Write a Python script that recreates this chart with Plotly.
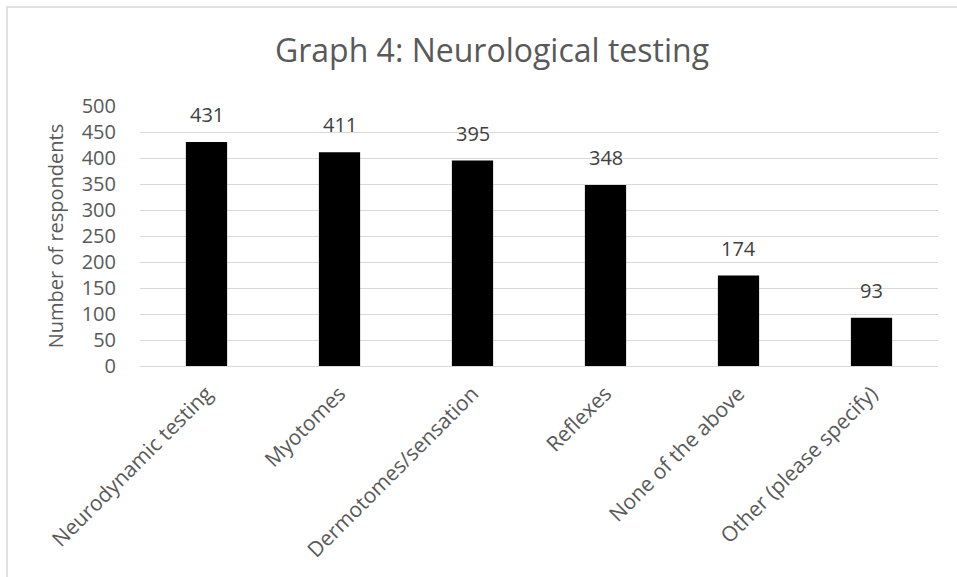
import plotly.graph_objects as go

categories = ["Neurodynamic testing", "Myotomes", "Dermotomes/sensation",
              "Reflexes", "None of the above", "Other (please specify)"]
values = [431, 411, 395, 348, 174, 93]
y_ticks = [0, 50, 100, 150, 200, 250, 300, 350, 400, 450, 500]

FONT = "Open Sans"
GREY = "#595959"

W, H = 957, 577
L, R, T, B = 140, 19, 106, 211
pw, ph = W - L - R, H - T - B

fig = go.Figure(go.Bar(
    x=categories, y=values,
    marker=dict(color="#000000", line=dict(width=0)),
    hoverinfo="x+y",
))

annotations = [
    dict(x=c, y=v, xref="x", yref="y", text=str(v), showarrow=False,
         yanchor="bottom", yshift=12,
         font=dict(family=FONT, size=20, color="#404040"))
    for c, v in zip(categories, values)
]

fig.update_layout(
    width=W, height=H,
    margin=dict(l=L, r=R, t=T, b=B, pad=0),
    paper_bgcolor="white", plot_bgcolor="white",
    bargap=0.69,
    showlegend=False,
    font=dict(family=FONT, color=GREY),
    title=dict(text="Graph 4: Neurological testing",
               x=492 / W, xref="container", xanchor="center",
               y=1 - 51 / H, yref="container", yanchor="middle",
               font=dict(family=FONT, size=32, color=GREY)),
    annotations=annotations,
    shapes=[dict(type="rect", xref="paper", yref="paper",
                 x0=(7 - L) / pw, x1=(W + 20 - L) / pw,
                 y0=(H - B - (H + 20)) / ph, y1=(H - B - 7) / ph,
                 line=dict(color="#d9d9d9", width=1.5), layer="below")],
)

fig.update_yaxes(
    range=[0, 500], tickvals=y_ticks, ticktext=[str(t) for t in y_ticks],
    showgrid=True, gridcolor="#d9d9d9", gridwidth=1,
    zeroline=True, zerolinecolor="#d9d9d9", zerolinewidth=1,
    showline=False, ticks="", ticklabelstandoff=23,
    tickfont=dict(family=FONT, size=20, color=GREY),
    title=dict(text="Number of respondents", standoff=12,
               font=dict(family=FONT, size=20, color=GREY)),
)

fig.update_xaxes(
    tickangle=-45, showgrid=False, showline=True, linecolor="#d9d9d9",
    linewidth=1, ticks="", ticklabelstandoff=6,
    tickfont=dict(family=FONT, size=21, color=GREY),
)

fig.write_html("out.html",
               config={"displayModeBar": False},
               post_script="document.body.style.margin='0';"
                           "document.body.style.overflow='hidden';")
